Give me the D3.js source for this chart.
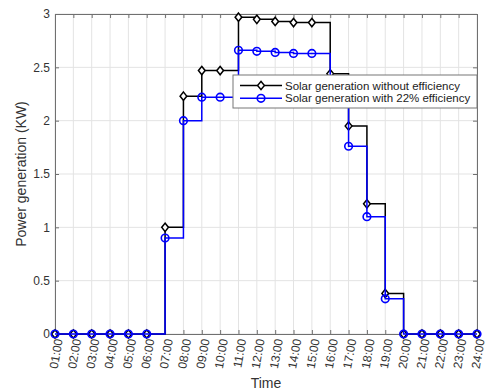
<!DOCTYPE html>
<html>
<head>
<meta charset="utf-8">
<script src="https://cdn.jsdelivr.net/npm/d3@7"></script>
<style>
  body { margin: 0; background: #fff; }
  svg { font-family: "Liberation Sans", Arial, sans-serif; }
</style>
</head>
<body>
<div id="chart"></div>
<script>
// hourly time labels
var hours = ["01:00", "02:00", "03:00", "04:00", "05:00", "06:00", "07:00", "08:00",
  "09:00", "10:00", "11:00", "12:00", "13:00", "14:00", "15:00", "16:00",
  "17:00", "18:00", "19:00", "20:00", "21:00", "22:00", "23:00", "24:00"];

// solar generation (KW) without efficiency
var noEff = [0, 0, 0, 0, 0, 0, 1.0, 2.23, 2.47, 2.47, 2.97, 2.95, 2.93, 2.92, 2.92,
  2.44, 1.95, 1.22, 0.38, 0, 0, 0, 0, 0];

// solar generation (KW) with 22% efficiency
var withEff = [0, 0, 0, 0, 0, 0, 0.9, 2.0, 2.22, 2.22, 2.66, 2.65, 2.64, 2.63, 2.63,
  2.19, 1.76, 1.1, 0.33, 0, 0, 0, 0, 0];

var yTicks = [0, 0.5, 1, 1.5, 2, 2.5, 3];

var seriesNames = ["Solar generation without efficiency", "Solar generation with 22% efficiency"];

var width = 487, height = 390;
var margin = {top: 14, right: 10, bottom: 56, left: 55};
var w = width - margin.left - margin.right;
var h = height - margin.top - margin.bottom;

var svg = d3.select("#chart").append("svg")
  .attr("width", width)
  .attr("height", height);

var g = svg.append("g")
  .attr("transform", "translate(" + margin.left + "," + margin.top + ")");

var x = d3.scalePoint().domain(hours).range([0, w]);
var y = d3.scaleLinear().domain([0, 3]).range([h, 0]);

// grid
g.append("g").selectAll("line.vg")
  .data(hours)
  .enter().append("line")
  .attr("x1", function (d) { return x(d); })
  .attr("x2", function (d) { return x(d); })
  .attr("y1", 0).attr("y2", h)
  .attr("stroke", "#e3e3e3").attr("stroke-width", 1);

g.append("g").selectAll("line.hg")
  .data(yTicks)
  .enter().append("line")
  .attr("x1", 0).attr("x2", w)
  .attr("y1", function (d) { return y(d); })
  .attr("y2", function (d) { return y(d); })
  .attr("stroke", "#e3e3e3").attr("stroke-width", 1);

// axes (ticks inside, matlab style)
var xAxis = g.append("g")
  .attr("transform", "translate(0," + h + ")")
  .call(d3.axisBottom(x).tickSize(-4).tickPadding(6));
xAxis.selectAll("text")
  .attr("text-anchor", "end")
  .attr("font-size", 12)
  .attr("fill", "#333")
  .attr("transform", "translate(4,0) rotate(-80)")
  .attr("dy", "0.35em")
  .attr("y", 0)
  .attr("x", -5);

var yAxis = g.append("g")
  .call(d3.axisLeft(y).tickValues(yTicks).tickSize(-4).tickPadding(5)
    .tickFormat(d3.format("")));
yAxis.selectAll("text").attr("font-size", 12).attr("fill", "#333");

g.append("g")
  .attr("transform", "translate(" + w + ",0)")
  .call(d3.axisRight(y).tickValues(yTicks).tickSize(-4).tickFormat(""));
g.append("g")
  .call(d3.axisTop(x).tickSize(-4).tickFormat(""));

g.selectAll(".domain").attr("stroke", "#707070");
g.selectAll(".tick line").attr("stroke", "#707070");

// stair lines
var line = d3.line()
  .x(function (d, i) { return x(hours[i]); })
  .y(function (d) { return y(d); })
  .curve(d3.curveStepAfter);

var diamond = d3.symbol().type(d3.symbolDiamond2).size(40);

g.append("path")
  .datum(noEff)
  .attr("d", line)
  .attr("fill", "none")
  .attr("stroke", "#000")
  .attr("stroke-width", 1.5);

g.append("g").selectAll("path.dia")
  .data(noEff)
  .enter().append("path")
  .attr("d", diamond)
  .attr("transform", function (d, i) { return "translate(" + x(hours[i]) + "," + y(d) + ") scale(0.85,1.05)"; })
  .attr("fill", "#fff")
  .attr("stroke", "#000")
  .attr("stroke-width", 1.6);

g.append("path")
  .datum(withEff)
  .attr("d", line)
  .attr("fill", "none")
  .attr("stroke", "#0000ff")
  .attr("stroke-width", 1.5);

g.append("g").selectAll("circle")
  .data(withEff)
  .enter().append("circle")
  .attr("cx", function (d, i) { return x(hours[i]); })
  .attr("cy", function (d) { return y(d); })
  .attr("r", 3.8)
  .attr("fill", "none")
  .attr("stroke", "#0000ff")
  .attr("stroke-width", 1.6);

// legend
var legend = g.append("g")
  .attr("transform", "translate(" + (233 - margin.left) + "," + (75 - margin.top) + ")");
legend.append("rect")
  .attr("width", 244).attr("height", 33)
  .attr("fill", "#fff")
  .attr("stroke", "#777")
  .attr("stroke-width", 1);

seriesNames.forEach(function (name, i) {
  var ly = 10.5 + i * 12.8;
  var col = i === 0 ? "#000" : "#0000ff";
  legend.append("line")
    .attr("x1", 7).attr("x2", 49)
    .attr("y1", ly).attr("y2", ly)
    .attr("stroke", col).attr("stroke-width", 1.5);
  if (i === 0) {
    legend.append("path")
      .attr("d", diamond)
      .attr("transform", "translate(28," + ly + ") scale(0.85,1.05)")
      .attr("fill", "#fff").attr("stroke", col).attr("stroke-width", 1.6);
  } else {
    legend.append("circle")
      .attr("cx", 28).attr("cy", ly).attr("r", 3.8)
      .attr("fill", "none").attr("stroke", col).attr("stroke-width", 1.6);
  }
  legend.append("text")
    .attr("x", 52).attr("y", ly)
    .attr("dy", "0.35em")
    .attr("font-size", 11.5)
    .attr("fill", "#222")
    .text(name);
});

// axis titles
svg.append("text")
  .attr("x", margin.left + w / 2)
  .attr("y", 388)
  .attr("text-anchor", "middle")
  .attr("font-size", 14)
  .attr("fill", "#333")
  .text("Time");

svg.append("text")
  .attr("transform", "translate(26," + (margin.top + h / 2) + ") rotate(-90)")
  .attr("text-anchor", "middle")
  .attr("font-size", 14)
  .attr("fill", "#333")
  .text("Power generation (KW)");
</script>
</body>
</html>
